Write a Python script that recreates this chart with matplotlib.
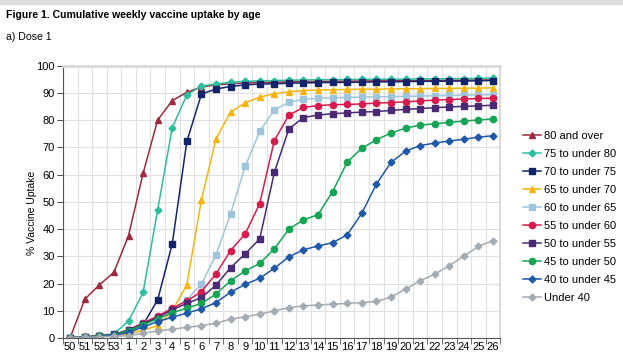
import numpy as np
import matplotlib
matplotlib.use("Agg")
import matplotlib.pyplot as plt
from matplotlib.patches import Rectangle

plt.rcParams['font.family'] = ['Liberation Sans', 'DejaVu Sans']

weeks = ['50', '51', '52', '53'] + [str(w) for w in range(1, 27)]

labels = ['80 and over', '75 to under 80', '70 to under 75', '65 to under 70',
          '60 to under 65', '55 to under 60', '50 to under 55', '45 to under 50',
          '40 to under 45', 'Under 40']

age_80_plus = [0.1, 14.2, 19.5, 24.1, 37.6, 60.5, 80.1, 87.2, 90.3, 92.2, 93.0, 93.4, 93.7, 93.9,
               94.0, 94.1, 94.2, 94.3, 94.3, 94.4, 94.4, 94.5, 94.5, 94.6, 94.6, 94.6, 94.7, 94.7, 94.8, 94.8]
age_75_80 = [0.0, 0.5, 0.9, 1.5, 6.2, 16.7, 47.1, 77.3, 89.3, 92.6, 93.3, 94.0, 94.3, 94.5,
             94.6, 94.7, 94.8, 94.9, 94.9, 95.0, 95.0, 95.1, 95.1, 95.1, 95.2, 95.2, 95.3, 95.3, 95.4, 95.5]
age_70_75 = [0.0, 0.3, 0.8, 1.3, 2.5, 4.8, 14.0, 34.6, 72.2, 89.6, 91.5, 92.4, 93.0, 93.3,
             93.4, 93.6, 93.7, 93.8, 93.9, 93.9, 94.0, 94.1, 94.1, 94.2, 94.3, 94.3, 94.4, 94.4, 94.5, 94.6]
age_65_70 = [0.0, 0.2, 0.5, 1.0, 1.5, 2.8, 4.5, 10.0, 19.5, 50.7, 73.2, 83.0, 86.4, 88.5,
             89.7, 90.5, 90.9, 91.1, 91.2, 91.3, 91.4, 91.4, 91.5, 91.6, 91.6, 91.7, 91.7, 91.8, 91.8, 91.9]
age_60_65 = [0.0, 0.3, 0.7, 1.2, 2.8, 5.3, 7.8, 10.5, 14.0, 19.8, 30.5, 45.6, 63.0, 75.9,
             83.8, 86.6, 87.7, 88.1, 88.2, 88.4, 88.5, 88.6, 88.7, 88.8, 88.9, 89.0, 89.1, 89.2, 89.3, 89.4]
age_55_60 = [0.0, 0.3, 0.7, 1.2, 3.0, 5.5, 8.0, 10.9, 13.6, 17.0, 23.5, 32.1, 38.2, 49.4,
             72.5, 81.9, 84.7, 85.4, 85.7, 85.8, 86.0, 86.3, 86.5, 86.8, 87.1, 87.4, 87.6, 87.8, 88.0, 88.1]
age_50_55 = [0.0, 0.3, 0.7, 1.2, 2.9, 5.2, 7.5, 10.3, 12.7, 14.8, 19.4, 25.8, 30.9, 36.4,
             60.8, 76.8, 81.0, 81.9, 82.4, 82.7, 83.0, 83.2, 83.6, 84.0, 84.3, 84.6, 84.9, 85.1, 85.3, 85.5]
age_45_50 = [0.0, 0.3, 0.6, 1.1, 2.7, 4.8, 7.0, 9.3, 10.9, 12.7, 16.1, 21.0, 24.6, 27.4,
             32.7, 40.0, 43.4, 45.3, 53.8, 64.6, 69.7, 72.8, 75.3, 77.1, 78.2, 78.7, 79.2, 79.7, 80.1, 80.5]
age_40_45 = [0.0, 0.2, 0.5, 1.0, 2.0, 4.0, 6.0, 7.6, 9.1, 10.7, 13.0, 16.8, 19.7, 21.9,
             25.6, 29.8, 32.4, 33.8, 35.0, 37.9, 45.8, 56.5, 64.5, 68.6, 70.7, 71.6, 72.4, 73.0, 73.8, 74.3]
under_40 = [0.0, 0.2, 0.4, 0.6, 0.8, 1.7, 2.6, 3.2, 3.9, 4.5, 5.4, 6.9, 7.8, 8.7,
            10.0, 11.1, 11.8, 12.1, 12.4, 12.7, 13.0, 13.4, 15.0, 17.9, 21.0, 23.4, 26.5, 30.1, 33.6, 35.8]

series = [age_80_plus, age_75_80, age_70_75, age_65_70, age_60_65,
          age_55_60, age_50_55, age_45_50, age_40_45, under_40]
colors = ['#9E2A3F', '#2DBE9E', '#14246B', '#F5B50E', '#9FC5DD',
          '#D81B4E', '#4A2A72', '#16A455', '#1E58A8', '#A3ABB3']
markers = ['^', 'D', 's', '^', 's', 'o', 's', 'o', 'D', 'D']
msizes = [4, 3.5, 4, 4.5, 4, 4.5, 4, 4.5, 3.5, 3.5]

fig = plt.figure(figsize=(6.23, 3.52), dpi=100)
fig.patches.append(Rectangle((0, 0.99), 1, 0.01, transform=fig.transFigure,
                             color='#DDDDDD', zorder=0))
fig.text(0.010, 0.957, 'Figure 1. Cumulative weekly vaccine uptake by age',
         fontsize=7.6, fontweight='bold', va='center')
fig.text(0.010, 0.895, 'a) Dose 1', fontsize=7.6, va='center')

ax = fig.add_axes([0.101, 0.040, 0.702, 0.773])
x = np.arange(len(weeks))
for vals, lab, c, m, ms in zip(series, labels, colors, markers, msizes):
    ax.plot(x, vals, color=c, marker=m, markersize=ms, linewidth=1.1, label=lab)

ax.set_xlim(-0.5, len(weeks) - 0.5)
ax.set_ylim(0, 100)
ax.set_yticks(range(0, 101, 10))
ax.set_xticks(x)
ax.set_xticklabels(weeks, fontsize=8)
ax.set_xticks(np.arange(-0.5, len(weeks), 1), minor=True)
ax.tick_params(axis='x', which='major', length=0, pad=3)
ax.tick_params(axis='x', which='minor', length=4, color='#555555')
ax.tick_params(axis='y', labelsize=8, length=4, color='#555555', pad=2)
ax.grid(which='minor', axis='x', color='#E0E0E0', linewidth=0.8)
ax.grid(which='major', axis='y', color='#E0E0E0', linewidth=0.8)
ax.set_axisbelow(True)
ax.set_ylabel('% Vaccine Uptake', fontsize=7.5)
ax.yaxis.set_label_coords(-0.06, 0.46)

ax.spines['left'].set_color('#555555')
ax.spines['bottom'].set_color('#555555')
ax.spines['top'].set_color('#D9D9D9')
ax.spines['top'].set_linewidth(2)
ax.spines['right'].set_color('#D9D9D9')
ax.spines['right'].set_linewidth(1.5)

ax.legend(loc='upper left', bbox_to_anchor=(0.832, 0.64), bbox_transform=fig.transFigure,
          frameon=False, fontsize=8, handlelength=1.6, handletextpad=0.3,
          labelspacing=0.72, borderaxespad=0)

fig.savefig('out.png', dpi=100)
